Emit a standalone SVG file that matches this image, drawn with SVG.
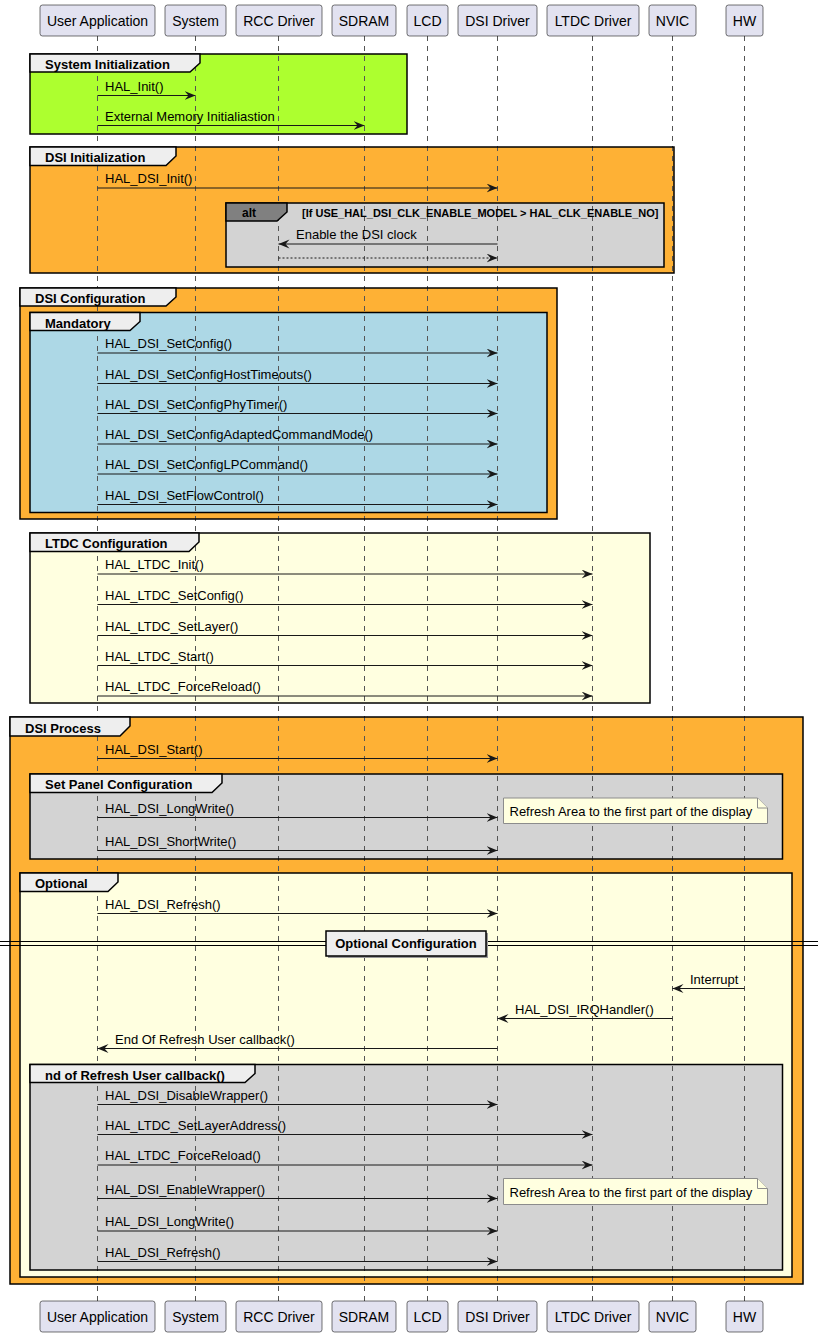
<svg xmlns="http://www.w3.org/2000/svg" width="818" height="1336" viewBox="0 0 818 1336">
<style>
text{font-family:"Liberation Sans",Arial,sans-serif;fill:#000}
.pbox{fill:#E2E2F0;stroke:#181818;stroke-width:0.6}
.plabel{font-size:14px;text-anchor:middle}
.life{stroke:#555;stroke-width:1;stroke-dasharray:5,5;fill:none}
.fbody{stroke:none}
.fborder{fill:none;stroke:#000;stroke-width:1.5}
.tab{fill:#EEEEEE;stroke:#000;stroke-width:1.5}
.ttl{font-size:13px;font-weight:bold}
.msg{stroke:#181818;stroke-width:1;fill:none}
.ret{stroke:#181818;stroke-width:1;fill:none;stroke-dasharray:2,2}
.ml{font-size:13px}
.note{fill:#FFFFE0;stroke:#8C8C8C;stroke-width:1}
</style>
<defs>
<marker id="ah" markerUnits="userSpaceOnUse" markerWidth="13" markerHeight="11" refX="11" refY="4.5" orient="auto">
<path d="M0,0 L11,4.5 L0,9 L4,4.5 Z" fill="#181818"/>
</marker>
</defs>

<!-- frame bodies -->
<g id="frame-bodies">
<rect class="fbody" x="30" y="54" width="377" height="80" fill="#ADFF2F"/>
<rect class="fbody" x="30" y="147" width="644" height="126" fill="#FEB135"/>
<rect class="fbody" x="226" y="203" width="438" height="64" fill="#D3D3D3"/>
<rect class="fbody" x="20" y="288" width="537" height="231" fill="#FEB135"/>
<rect class="fbody" x="30" y="312.5" width="517" height="200" fill="#ADD8E6"/>
<rect class="fbody" x="30" y="533" width="620" height="170" fill="#FFFFE0"/>
<rect class="fbody" x="10" y="717" width="793" height="567" fill="#FEB135"/>
<rect class="fbody" x="30" y="774" width="752.5" height="85" fill="#D3D3D3"/>
<rect class="fbody" x="20" y="873" width="772" height="404" fill="#FFFFE0"/>
<rect class="fbody" x="30" y="1064.5" width="752.5" height="205.5" fill="#D3D3D3"/>
</g>

<!-- lifelines -->
<g id="lifelines">
<line class="life" x1="97.5" y1="36" x2="97.5" y2="1301"/>
<line class="life" x1="195.5" y1="36" x2="195.5" y2="1301"/>
<line class="life" x1="278.5" y1="36" x2="278.5" y2="1301"/>
<line class="life" x1="364.5" y1="36" x2="364.5" y2="1301"/>
<line class="life" x1="427.5" y1="36" x2="427.5" y2="1301"/>
<line class="life" x1="497.5" y1="36" x2="497.5" y2="1301"/>
<line class="life" x1="592.5" y1="36" x2="592.5" y2="1301"/>
<line class="life" x1="672.5" y1="36" x2="672.5" y2="1301"/>
<line class="life" x1="744.5" y1="36" x2="744.5" y2="1301"/>
</g>

<!-- frames borders and tabs -->
<g id="frame-system-init">
<rect class="fborder" x="30" y="54" width="377" height="80"/>
<polygon class="tab" points="30,54 200,54 200,63 190,72 30,72"/>
<text class="ttl" x="45" y="69">System Initialization</text>
</g>
<g id="frame-dsi-init">
<rect class="fborder" x="30" y="147" width="644" height="126"/>
<polygon class="tab" points="30,147 176,147 176,156 166,165.5 30,165.5"/>
<text class="ttl" x="45" y="162">DSI Initialization</text>
</g>
<g id="frame-alt">
<rect class="fborder" x="226" y="203" width="438" height="64"/>
<polygon class="tab" points="226,203 287,203 287,212 277,221 226,221" style="fill:#808080"/>
<text class="ttl" x="242" y="217" style="font-size:12px">alt</text>
<text x="302" y="216.5" style="font-size:11px;font-weight:bold">[If USE_HAL_DSI_CLK_ENABLE_MODEL &gt; HAL_CLK_ENABLE_NO]</text>
</g>
<g id="frame-dsi-config">
<rect class="fborder" x="20" y="288" width="537" height="231"/>
<polygon class="tab" points="20,288 176,288 176,297 166,306 20,306"/>
<text class="ttl" x="35" y="303">DSI Configuration</text>
</g>
<g id="frame-mandatory">
<rect class="fborder" x="30" y="312.5" width="517" height="200"/>
<polygon class="tab" points="30,312.5 140,312.5 140,321.5 130,330.5 30,330.5"/>
<text class="ttl" x="45" y="327.5">Mandatory</text>
</g>
<g id="frame-ltdc-config">
<rect class="fborder" x="30" y="533" width="620" height="170"/>
<polygon class="tab" points="30,533 199,533 199,542 189,551.5 30,551.5"/>
<text class="ttl" x="45" y="548">LTDC Configuration</text>
</g>
<g id="frame-dsi-process">
<rect class="fborder" x="10" y="717" width="793" height="567"/>
<polygon class="tab" points="10,717 130,717 130,726 120,736 10,736"/>
<text class="ttl" x="25" y="732.5">DSI Process</text>
</g>
<g id="frame-set-panel">
<rect class="fborder" x="30" y="774" width="752.5" height="85"/>
<polygon class="tab" points="30,774 222,774 222,783 212,792.5 30,792.5"/>
<text class="ttl" x="45" y="789">Set Panel Configuration</text>
</g>
<g id="frame-optional">
<rect class="fborder" x="20" y="873" width="772" height="404"/>
<polygon class="tab" points="20,873 118,873 118,882 108,891.5 20,891.5"/>
<text class="ttl" x="35" y="888">Optional</text>
</g>
<g id="frame-end-refresh">
<rect class="fborder" x="30" y="1064.5" width="752.5" height="205.5"/>
<polygon class="tab" points="30,1064.5 255,1064.5 255,1073.5 245,1082.5 30,1082.5"/>
<text class="ttl" x="45" y="1079.5">nd of Refresh User callback()</text>
</g>

<!-- divider -->
<g id="divider-optional-config">
<line x1="0" y1="941.5" x2="818" y2="941.5" stroke="#000" stroke-width="1"/>
<line x1="0" y1="945.5" x2="818" y2="945.5" stroke="#000" stroke-width="1"/>
<rect x="328" y="933" width="160" height="25" fill="#9A9A9A"/>
<rect x="326" y="931" width="160" height="25" fill="#EEEEEE" stroke="#000" stroke-width="1.5"/>
<text class="ttl" x="406" y="948" text-anchor="middle">Optional Configuration</text>
</g>

<!-- notes -->
<g id="note-1">
<path class="note" d="M503.5,798 H757.5 L767.5,808 V823.5 H503.5 Z"/>
<path class="note" d="M757.5,798 V808 H767.5" fill="none"/>
<text class="ml" x="509.5" y="816">Refresh Area to the first part of the display</text>
</g>
<g id="note-2">
<path class="note" d="M503.5,1178.5 H757.5 L767.5,1188.5 V1204.5 H503.5 Z"/>
<path class="note" d="M757.5,1178.5 V1188.5 H767.5" fill="none"/>
<text class="ml" x="509.5" y="1197">Refresh Area to the first part of the display</text>
</g>

<!-- connectors -->
<g id="connectors">
<line class="msg" x1="97.5" y1="95.5" x2="195.5" y2="95.5" marker-end="url(#ah)"/>
<text class="ml" x="105" y="90.5">HAL_Init()</text>
<line class="msg" x1="97.5" y1="125.5" x2="364.5" y2="125.5" marker-end="url(#ah)"/>
<text class="ml" x="105" y="120.5">External Memory Initialiastion</text>
<line class="msg" x1="97.5" y1="188" x2="497.5" y2="188" marker-end="url(#ah)"/>
<text class="ml" x="105" y="183">HAL_DSI_Init()</text>
<line class="msg" x1="497.5" y1="244" x2="278.5" y2="244" marker-end="url(#ah)"/>
<text class="ml" x="296" y="239">Enable the DSI clock</text>
<line class="ret" x1="278.5" y1="258" x2="497.5" y2="258" marker-end="url(#ah)"/>

<line class="msg" x1="97.5" y1="353" x2="497.5" y2="353" marker-end="url(#ah)"/>
<text class="ml" x="105" y="348">HAL_DSI_SetConfig()</text>
<line class="msg" x1="97.5" y1="383.5" x2="497.5" y2="383.5" marker-end="url(#ah)"/>
<text class="ml" x="105" y="378.5">HAL_DSI_SetConfigHostTimeouts()</text>
<line class="msg" x1="97.5" y1="413.5" x2="497.5" y2="413.5" marker-end="url(#ah)"/>
<text class="ml" x="105" y="408.5">HAL_DSI_SetConfigPhyTimer()</text>
<line class="msg" x1="97.5" y1="444" x2="497.5" y2="444" marker-end="url(#ah)"/>
<text class="ml" x="105" y="439">HAL_DSI_SetConfigAdaptedCommandMode()</text>
<line class="msg" x1="97.5" y1="474" x2="497.5" y2="474" marker-end="url(#ah)"/>
<text class="ml" x="105" y="469">HAL_DSI_SetConfigLPCommand()</text>
<line class="msg" x1="97.5" y1="504.5" x2="497.5" y2="504.5" marker-end="url(#ah)"/>
<text class="ml" x="105" y="499.5">HAL_DSI_SetFlowControl()</text>

<line class="msg" x1="97.5" y1="574" x2="592.5" y2="574" marker-end="url(#ah)"/>
<text class="ml" x="105" y="569">HAL_LTDC_Init()</text>
<line class="msg" x1="97.5" y1="604.5" x2="592.5" y2="604.5" marker-end="url(#ah)"/>
<text class="ml" x="105" y="599.5">HAL_LTDC_SetConfig()</text>
<line class="msg" x1="97.5" y1="635.5" x2="592.5" y2="635.5" marker-end="url(#ah)"/>
<text class="ml" x="105" y="630.5">HAL_LTDC_SetLayer()</text>
<line class="msg" x1="97.5" y1="665.5" x2="592.5" y2="665.5" marker-end="url(#ah)"/>
<text class="ml" x="105" y="660.5">HAL_LTDC_Start()</text>
<line class="msg" x1="97.5" y1="696" x2="592.5" y2="696" marker-end="url(#ah)"/>
<text class="ml" x="105" y="691">HAL_LTDC_ForceReload()</text>

<line class="msg" x1="97.5" y1="758.5" x2="497.5" y2="758.5" marker-end="url(#ah)"/>
<text class="ml" x="105" y="753.5">HAL_DSI_Start()</text>
<line class="msg" x1="97.5" y1="817.5" x2="497.5" y2="817.5" marker-end="url(#ah)"/>
<text class="ml" x="105" y="812.5">HAL_DSI_LongWrite()</text>
<line class="msg" x1="97.5" y1="850.5" x2="497.5" y2="850.5" marker-end="url(#ah)"/>
<text class="ml" x="105" y="845.5">HAL_DSI_ShortWrite()</text>

<line class="msg" x1="97.5" y1="913.5" x2="497.5" y2="913.5" marker-end="url(#ah)"/>
<text class="ml" x="105" y="908.5">HAL_DSI_Refresh()</text>
<line class="msg" x1="744.5" y1="988.5" x2="672.5" y2="988.5" marker-end="url(#ah)"/>
<text class="ml" x="690" y="983.5">Interrupt</text>
<line class="msg" x1="672.5" y1="1018.5" x2="497.5" y2="1018.5" marker-end="url(#ah)"/>
<text class="ml" x="515" y="1013.5">HAL_DSI_IRQHandler()</text>
<line class="msg" x1="497.5" y1="1048.5" x2="97.5" y2="1048.5" marker-end="url(#ah)"/>
<text class="ml" x="115" y="1043.5">End Of Refresh User callback()</text>

<line class="msg" x1="97.5" y1="1104.5" x2="497.5" y2="1104.5" marker-end="url(#ah)"/>
<text class="ml" x="105" y="1099.5">HAL_DSI_DisableWrapper()</text>
<line class="msg" x1="97.5" y1="1134.5" x2="592.5" y2="1134.5" marker-end="url(#ah)"/>
<text class="ml" x="105" y="1129.5">HAL_LTDC_SetLayerAddress()</text>
<line class="msg" x1="97.5" y1="1165" x2="592.5" y2="1165" marker-end="url(#ah)"/>
<text class="ml" x="105" y="1160">HAL_LTDC_ForceReload()</text>
<line class="msg" x1="97.5" y1="1198.5" x2="497.5" y2="1198.5" marker-end="url(#ah)"/>
<text class="ml" x="105" y="1193.5">HAL_DSI_EnableWrapper()</text>
<line class="msg" x1="97.5" y1="1231" x2="497.5" y2="1231" marker-end="url(#ah)"/>
<text class="ml" x="105" y="1226">HAL_DSI_LongWrite()</text>
<line class="msg" x1="97.5" y1="1261.5" x2="497.5" y2="1261.5" marker-end="url(#ah)"/>
<text class="ml" x="105" y="1256.5">HAL_DSI_Refresh()</text>
</g>

<!-- participants -->
<g id="p-user-application">
<rect class="pbox" x="40" y="5" width="115" height="31" rx="2.5"/><text class="plabel" x="97.5" y="26">User Application</text>
<rect class="pbox" x="40" y="1301" width="115" height="31" rx="2.5"/><text class="plabel" x="97.5" y="1322">User Application</text>
</g>
<g id="p-system">
<rect class="pbox" x="165" y="5" width="61" height="31" rx="2.5"/><text class="plabel" x="195.5" y="26">System</text>
<rect class="pbox" x="165" y="1301" width="61" height="31" rx="2.5"/><text class="plabel" x="195.5" y="1322">System</text>
</g>
<g id="p-rcc-driver">
<rect class="pbox" x="236" y="5" width="86" height="31" rx="2.5"/><text class="plabel" x="279" y="26">RCC Driver</text>
<rect class="pbox" x="236" y="1301" width="86" height="31" rx="2.5"/><text class="plabel" x="279" y="1322">RCC Driver</text>
</g>
<g id="p-sdram">
<rect class="pbox" x="332" y="5" width="64" height="31" rx="2.5"/><text class="plabel" x="364" y="26">SDRAM</text>
<rect class="pbox" x="332" y="1301" width="64" height="31" rx="2.5"/><text class="plabel" x="364" y="1322">SDRAM</text>
</g>
<g id="p-lcd">
<rect class="pbox" x="407" y="5" width="41" height="31" rx="2.5"/><text class="plabel" x="427.5" y="26">LCD</text>
<rect class="pbox" x="407" y="1301" width="41" height="31" rx="2.5"/><text class="plabel" x="427.5" y="1322">LCD</text>
</g>
<g id="p-dsi-driver">
<rect class="pbox" x="458" y="5" width="79" height="31" rx="2.5"/><text class="plabel" x="497.5" y="26">DSI Driver</text>
<rect class="pbox" x="458" y="1301" width="79" height="31" rx="2.5"/><text class="plabel" x="497.5" y="1322">DSI Driver</text>
</g>
<g id="p-ltdc-driver">
<rect class="pbox" x="547" y="5" width="92" height="31" rx="2.5"/><text class="plabel" x="593" y="26">LTDC Driver</text>
<rect class="pbox" x="547" y="1301" width="92" height="31" rx="2.5"/><text class="plabel" x="593" y="1322">LTDC Driver</text>
</g>
<g id="p-nvic">
<rect class="pbox" x="649" y="5" width="47" height="31" rx="2.5"/><text class="plabel" x="672.5" y="26">NVIC</text>
<rect class="pbox" x="649" y="1301" width="47" height="31" rx="2.5"/><text class="plabel" x="672.5" y="1322">NVIC</text>
</g>
<g id="p-hw">
<rect class="pbox" x="726" y="5" width="37" height="31" rx="2.5"/><text class="plabel" x="744.5" y="26">HW</text>
<rect class="pbox" x="726" y="1301" width="37" height="31" rx="2.5"/><text class="plabel" x="744.5" y="1322">HW</text>
</g>
</svg>
